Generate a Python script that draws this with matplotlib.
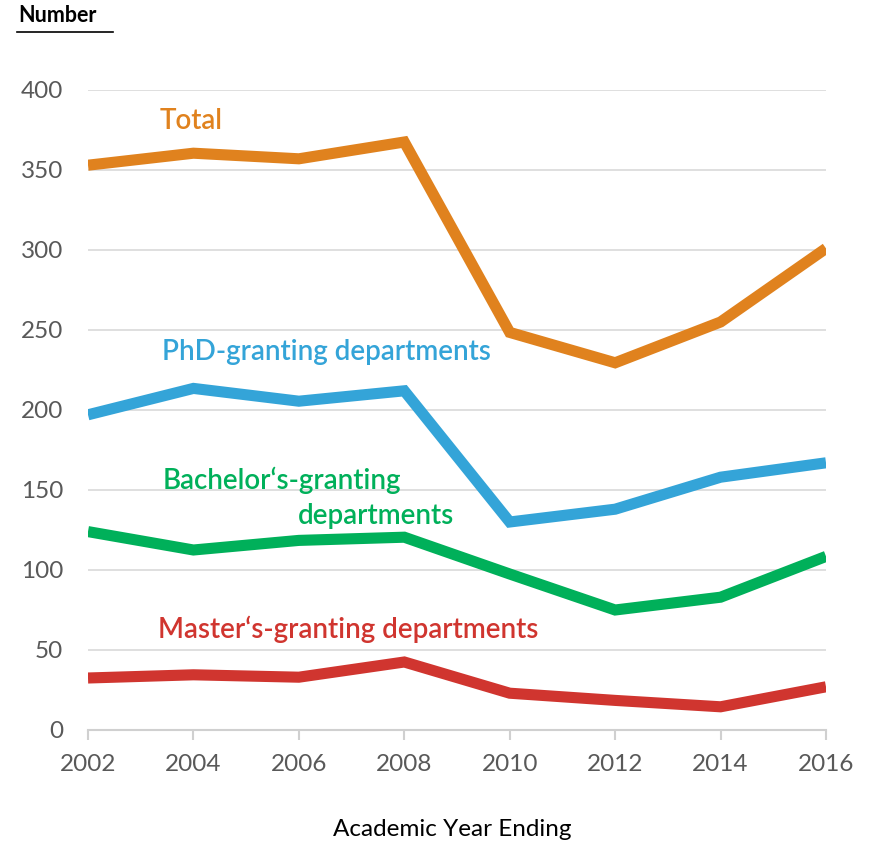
import matplotlib
matplotlib.use("Agg")
import matplotlib.pyplot as plt
from matplotlib.lines import Line2D

years = [2002, 2004, 2006, 2008, 2010, 2012, 2014, 2016]
total = [353, 360.5, 357, 367.5, 248.5, 229.5, 255, 301]
phd = [197, 213.5, 205.5, 212, 130, 138, 158, 167]
bachelor = [124, 112.5, 118.5, 120.5, 97.5, 75, 83, 108.5]
master = [32.5, 34.5, 33, 42.5, 23, 18.5, 14.5, 27]
y_ticks = [0, 50, 100, 150, 200, 250, 300, 350, 400]

c_total = "#E0821E"
c_phd = "#34A4D8"
c_bach = "#00B05A"
c_master = "#D0352F"
tick_color = "#595959"
FONT = ["Lato", "DejaVu Sans"]
LSIZE = 20
LW = "semibold"

fig = plt.figure(figsize=(8.71, 8.43), dpi=100)
ax = fig.add_axes([88/871, 1-730/843, (826-88)/871, (730-90)/843])

for vals, col in [(total, c_total), (phd, c_phd), (bachelor, c_bach), (master, c_master)]:
    ax.plot(years, vals, color=col, lw=8, solid_capstyle="butt", solid_joinstyle="miter", zorder=3)

ax.set_xlim(2002, 2016)
ax.set_ylim(0, 400)
ax.set_yticks(y_ticks)
ax.set_xticks(years)
ax.grid(axis="y", color="#d9d9d9", lw=1.2, zorder=0)
for s in ["left", "right", "top"]:
    ax.spines[s].set_visible(False)
ax.spines["bottom"].set_color("#d0d0d0")
ax.spines["bottom"].set_linewidth(1.5)
ax.tick_params(axis="y", length=0, pad=18, labelsize=17.5, labelcolor=tick_color)
ax.tick_params(axis="x", length=7, width=1.5, color="#d0d0d0", pad=10, labelsize=17.5, labelcolor=tick_color)
for lab in ax.get_xticklabels() + ax.get_yticklabels():
    lab.set_fontfamily(FONT)

ax.text(2003.95, 380.5, "Total", color=c_total, fontsize=LSIZE, fontweight=LW, ha="center", va="center", family=FONT)
ax.text(2003.4, 236, "PhD-granting departments", color=c_phd, fontsize=LSIZE, fontweight=LW, ha="left", va="center", family=FONT)
ax.text(2003.42, 156, "Bachelor\u2018s-granting", color=c_bach, fontsize=LSIZE, fontweight=LW, ha="left", va="center", family=FONT)
ax.text(2005.98, 133.5, "departments", color=c_bach, fontsize=LSIZE, fontweight=LW, ha="left", va="center", family=FONT)
ax.text(2003.33, 63, "Master\u2018s-granting departments", color=c_master, fontsize=LSIZE, fontweight=LW, ha="left", va="center", family=FONT)

fig.text(18/871, 1-15/843, "Number", fontsize=15.5, fontweight="bold", ha="left", va="center", family=FONT)
fig.add_artist(Line2D([17/871, 113/871], [1-32/843, 1-32/843], color="black", lw=1.2, transform=fig.transFigure))
fig.text(452/871, 1-830/843, "Academic Year Ending", fontsize=17.5, ha="center", va="center", family=FONT)

fig.savefig("out.png", dpi=100)
